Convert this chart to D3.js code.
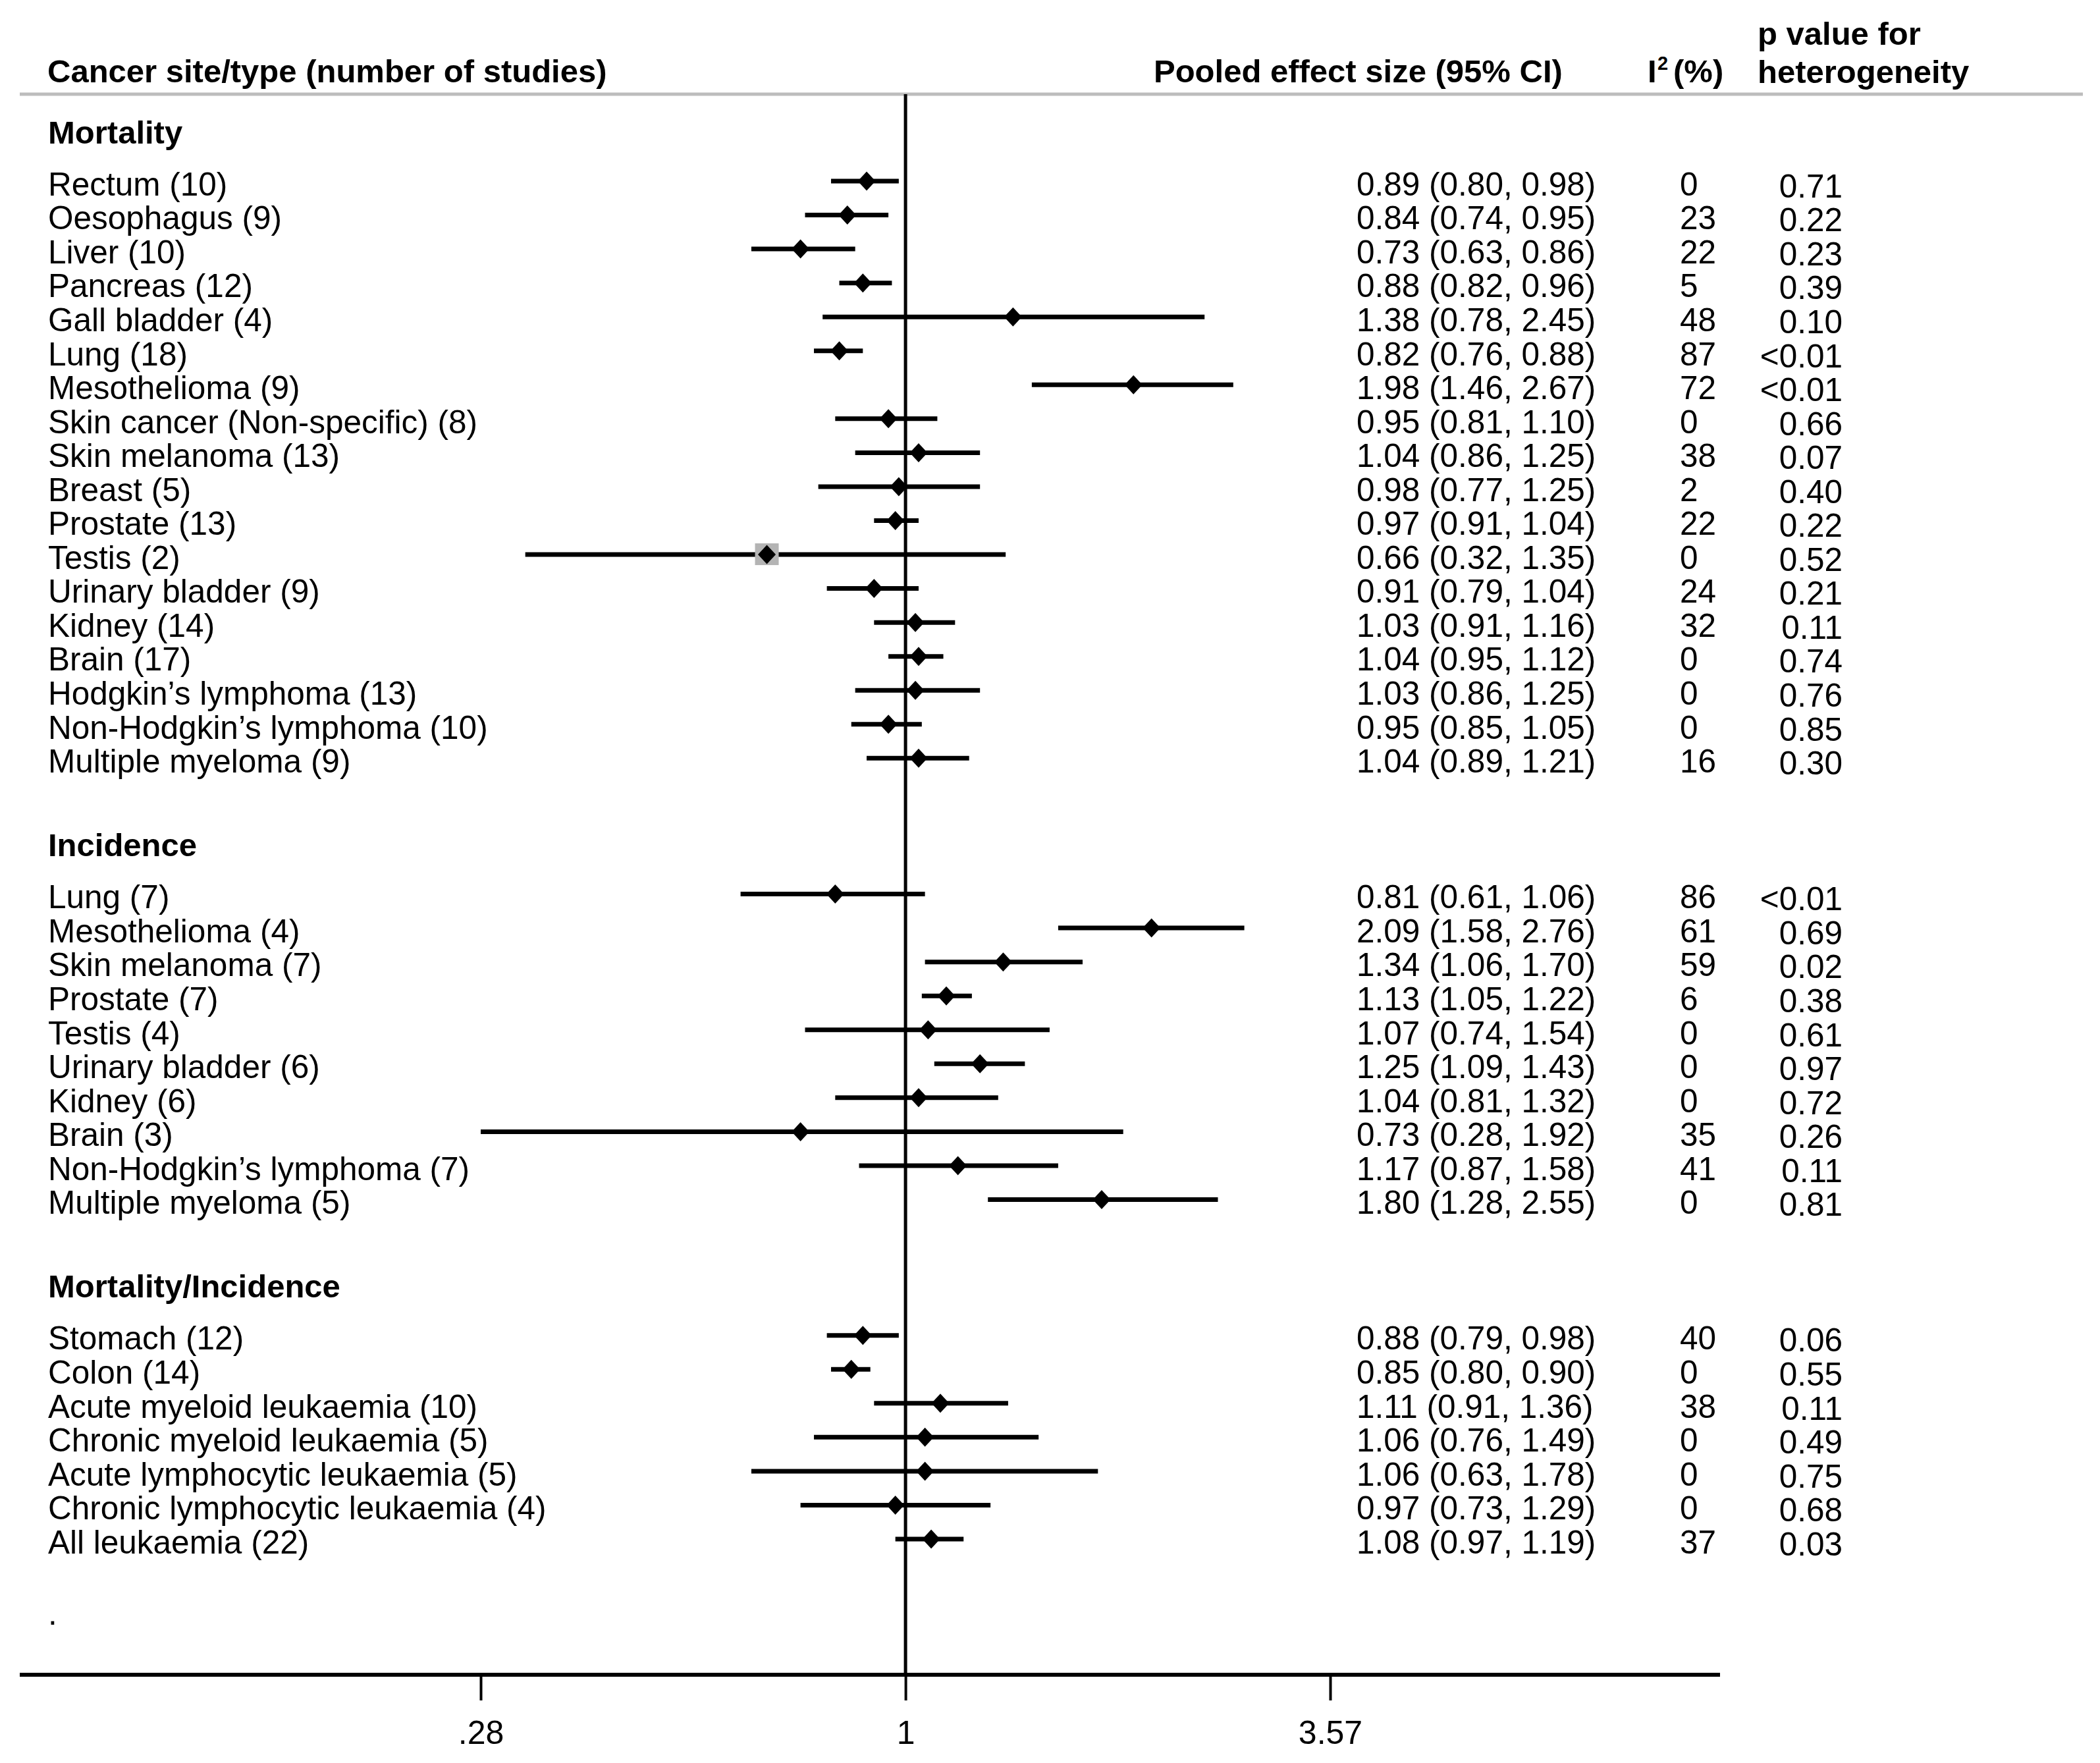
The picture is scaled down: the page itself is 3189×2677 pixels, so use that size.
<!DOCTYPE html>
<html>
<head>
<meta charset="utf-8">
<script src="https://cdn.jsdelivr.net/npm/d3@7"></script>
<style>
  body { margin: 0; background: #fff; }
  text { font-family: "Liberation Sans", Arial, sans-serif; fill: #000; }
</style>
</head>
<body>
<svg id="forest"></svg>
<script>
// groups of the table, top to bottom
const groupNames = ["Mortality", "Incidence", "Mortality/Incidence"];

const siteLabels = [
  ["Rectum (10)", "Oesophagus (9)", "Liver (10)", "Pancreas (12)", "Gall bladder (4)", "Lung (18)",
   "Mesothelioma (9)", "Skin cancer (Non-specific) (8)", "Skin melanoma (13)", "Breast (5)", "Prostate (13)",
   "Testis (2)", "Urinary bladder (9)", "Kidney (14)", "Brain (17)", "Hodgkin\u2019s lymphoma (13)",
   "Non-Hodgkin\u2019s lymphoma (10)", "Multiple myeloma (9)"],
  ["Lung (7)", "Mesothelioma (4)", "Skin melanoma (7)", "Prostate (7)", "Testis (4)", "Urinary bladder (6)",
   "Kidney (6)", "Brain (3)", "Non-Hodgkin\u2019s lymphoma (7)", "Multiple myeloma (5)"],
  ["Stomach (12)", "Colon (14)", "Acute myeloid leukaemia (10)", "Chronic myeloid leukaemia (5)",
   "Acute lymphocytic leukaemia (5)", "Chronic lymphocytic leukaemia (4)", "All leukaemia (22)"]
];

const pooledEffect = [
  [0.89, 0.84, 0.73, 0.88, 1.38, 0.82, 1.98, 0.95, 1.04, 0.98, 0.97, 0.66, 0.91, 1.03, 1.04, 1.03, 0.95, 1.04],
  [0.81, 2.09, 1.34, 1.13, 1.07, 1.25, 1.04, 0.73, 1.17, 1.80],
  [0.88, 0.85, 1.11, 1.06, 1.06, 0.97, 1.08]
];
const lowerCI = [
  [0.80, 0.74, 0.63, 0.82, 0.78, 0.76, 1.46, 0.81, 0.86, 0.77, 0.91, 0.32, 0.79, 0.91, 0.95, 0.86, 0.85, 0.89],
  [0.61, 1.58, 1.06, 1.05, 0.74, 1.09, 0.81, 0.28, 0.87, 1.28],
  [0.79, 0.80, 0.91, 0.76, 0.63, 0.73, 0.97]
];
const upperCI = [
  [0.98, 0.95, 0.86, 0.96, 2.45, 0.88, 2.67, 1.10, 1.25, 1.25, 1.04, 1.35, 1.04, 1.16, 1.12, 1.25, 1.05, 1.21],
  [1.06, 2.76, 1.70, 1.22, 1.54, 1.43, 1.32, 1.92, 1.58, 2.55],
  [0.98, 0.90, 1.36, 1.49, 1.78, 1.29, 1.19]
];
const iSquared = [
  [0, 23, 22, 5, 48, 87, 72, 0, 38, 2, 22, 0, 24, 32, 0, 0, 0, 16],
  [86, 61, 59, 6, 0, 0, 0, 35, 41, 0],
  [40, 0, 38, 0, 0, 0, 37]
];
const pHetero = [
  ["0.71", "0.22", "0.23", "0.39", "0.10", "<0.01", "<0.01", "0.66", "0.07", "0.40", "0.22", "0.52", "0.21",
   "0.11", "0.74", "0.76", "0.85", "0.30"],
  ["<0.01", "0.69", "0.02", "0.38", "0.61", "0.97", "0.72", "0.26", "0.11", "0.81"],
  ["0.06", "0.55", "0.11", "0.49", "0.75", "0.68", "0.03"]
];
// rows whose grey weight box shows behind the diamond
const weightBoxRows = ["Mortality|Testis (2)"];

const xTicks = [0.28, 1, 3.57];
const xTickLabels = [".28", "1", "3.57"];

const W = 3189, H = 2677;
const fontSize = 49.5;
const headSize = 49;

const svg = d3.select("#forest").attr("width", W).attr("height", H);
svg.append("rect").attr("width", W).attr("height", H).attr("fill", "#fff");

// build row positions (in row units): header ~1.5 above first row, 4 units between groups
let rows = [], headers = [];
let pos = 0;
groupNames.forEach((g, gi) => {
  headers.push({name: g, pos: pos - 1.53});
  siteLabels[gi].forEach((s, i) => {
    rows.push({
      group: g, label: s, pos: pos,
      est: pooledEffect[gi][i], lo: lowerCI[gi][i], hi: upperCI[gi][i],
      i2: iSquared[gi][i], p: pHetero[gi][i]
    });
    pos += 1;
  });
  pos += 3;
});
const lastPos = rows[rows.length - 1].pos;

const y = d3.scaleLinear().domain([0, lastPos]).range([275, 2337]);
const x = d3.scaleLog().domain([0.28, 3.57]).range([730, 2020]);

const axisY = 2543;
const headLineY = 143;
const labelX = 73, effectX = 2060, i2X = 2551, pX = 2798;

// header rule
svg.append("line")
  .attr("x1", 30).attr("x2", 3163).attr("y1", headLineY).attr("y2", headLineY)
  .attr("stroke", "#bdbdbd").attr("stroke-width", 5);

// column headings
const head = svg.append("g").style("font-weight", "bold").style("font-size", headSize + "px");
head.append("text").attr("x", labelX - 1).attr("y", 125).text("Cancer site/type (number of studies)");
head.append("text").attr("x", 1752).attr("y", 125).text("Pooled effect size (95% CI)");
head.append("text").attr("x", 2502).attr("y", 125).text("I");
head.append("text").attr("x", 2517).attr("y", 106).style("font-size", "29px").text("2");
head.append("text").attr("x", 2541).attr("y", 125).text("(%)");
head.append("text").attr("x", 2669).attr("y", 68).text("p value for");
head.append("text").attr("x", 2669).attr("y", 126).text("heterogeneity");

// null line at 1
svg.append("line")
  .attr("x1", x(1)).attr("x2", x(1)).attr("y1", headLineY).attr("y2", axisY)
  .attr("stroke", "#000").attr("stroke-width", 5);

// x axis
const xAxis = d3.axisBottom(x)
  .tickValues(xTicks)
  .tickFormat((d, i) => xTickLabels[i])
  .tickSize(39)
  .tickPadding(30);
const axisG = svg.append("g")
  .attr("transform", `translate(0, ${axisY})`)
  .call(xAxis);
axisG.select(".domain").remove();
axisG.selectAll(".tick line").attr("stroke", "#000").attr("stroke-width", 4);
axisG.selectAll(".tick text")
  .style("font-size", "50px")
  .style("font-family", '"Liberation Sans", Arial, sans-serif')
  .attr("fill", "#000");
svg.append("line")
  .attr("x1", 30).attr("x2", 2612).attr("y1", axisY).attr("y2", axisY)
  .attr("stroke", "#000").attr("stroke-width", 6);

// group headings
svg.append("g").selectAll("text")
  .data(headers)
  .enter()
  .append("text")
    .attr("x", labelX)
    .attr("y", d => y(d.pos))
    .attr("dy", "0.44em")
    .style("font-weight", "bold")
    .style("font-size", headSize + "px")
    .text(d => d.name);

// confidence intervals
svg.append("g").selectAll("line")
  .data(rows)
  .enter()
  .append("line")
    .attr("x1", d => x(d.lo))
    .attr("x2", d => x(d.hi))
    .attr("y1", d => y(d.pos))
    .attr("y2", d => y(d.pos))
    .attr("stroke", "#000")
    .attr("stroke-width", 7);

// weight boxes that are visible
svg.append("g").selectAll("rect")
  .data(rows.filter(d => weightBoxRows.includes(d.group + "|" + d.label)))
  .enter()
  .append("rect")
    .attr("x", d => x(d.est) - 18)
    .attr("y", d => y(d.pos) - 17)
    .attr("width", 36)
    .attr("height", 33)
    .attr("fill", "#b4b4b4");

// point estimates
svg.append("g").selectAll("path")
  .data(rows)
  .enter()
  .append("path")
    .attr("transform", d => `translate(${x(d.est)}, ${y(d.pos)})`)
    .attr("d", "M0,-14.5L13.5,0L0,14.5L-13.5,0Z")
    .attr("fill", "#000");

// table text
const body = svg.append("g").style("font-size", fontSize + "px");

body.selectAll(".site")
  .data(rows)
  .enter()
  .append("text")
    .attr("class", "site")
    .attr("x", labelX)
    .attr("y", d => y(d.pos))
    .attr("dy", "0.44em")
    .text(d => d.label);

body.selectAll(".effect")
  .data(rows)
  .enter()
  .append("text")
    .attr("class", "effect")
    .attr("x", effectX)
    .attr("y", d => y(d.pos))
    .attr("dy", "0.44em")
    .text(d => `${d.est.toFixed(2)} (${d.lo.toFixed(2)}, ${d.hi.toFixed(2)})`);

body.selectAll(".i2")
  .data(rows)
  .enter()
  .append("text")
    .attr("class", "i2")
    .attr("x", i2X)
    .attr("y", d => y(d.pos))
    .attr("dy", "0.44em")
    .text(d => d.i2);

body.selectAll(".pval")
  .data(rows)
  .enter()
  .append("text")
    .attr("class", "pval")
    .attr("x", pX)
    .attr("y", d => y(d.pos) + 3)
    .attr("dy", "0.44em")
    .attr("text-anchor", "end")
    .text(d => d.p);

// stray full stop left under the last group
body.append("text")
  .attr("x", labelX)
  .attr("y", y(lastPos + 2.1))
  .attr("dy", "0.44em")
  .text(".");
</script>
</body>
</html>
